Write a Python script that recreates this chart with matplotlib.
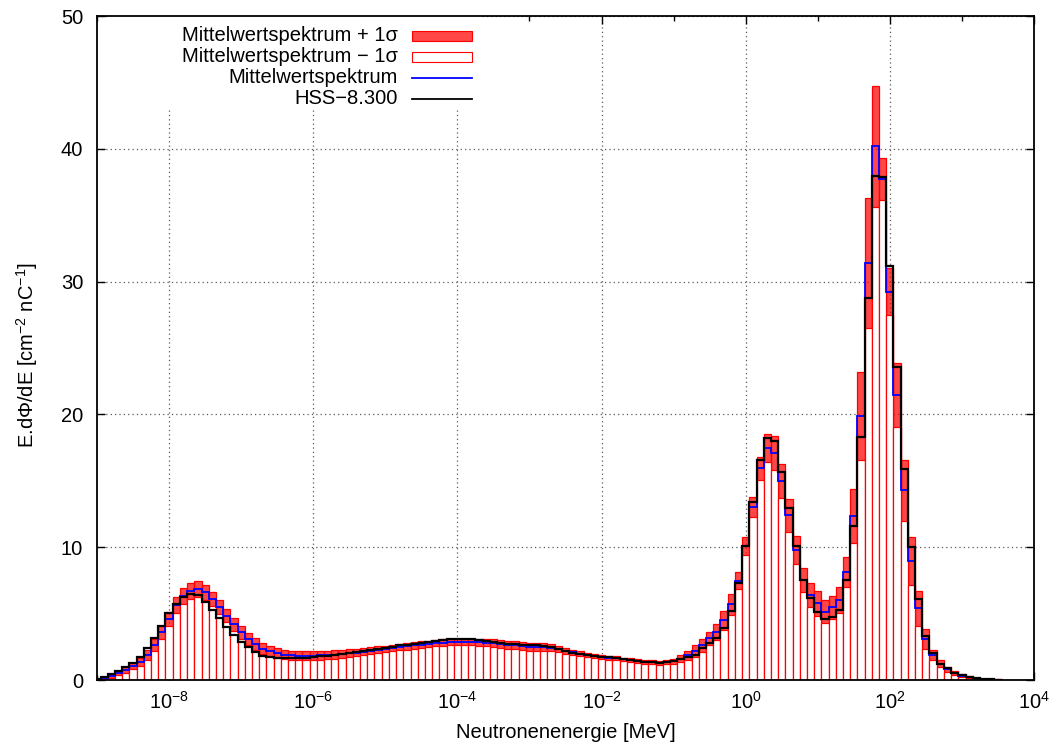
import matplotlib
matplotlib.use("Agg")
from matplotlib import pyplot as plt
from matplotlib.patches import Rectangle
from matplotlib.lines import Line2D
import numpy as np

plt.rcParams['font.family'] = ['Liberation Sans', 'DejaVu Sans']
plt.rcParams['mathtext.fontset'] = 'custom'
plt.rcParams['mathtext.rm'] = 'Liberation Sans'
plt.rcParams['mathtext.it'] = 'Liberation Sans:italic'
plt.rcParams['mathtext.bf'] = 'Liberation Sans:bold'

# bin centres: 10 bins per decade, log10(E/MeV) from -9.0 to 3.5
log_e = np.arange(-90, 36) / 10.0

# mean spectrum (one row per decade)
mittel = [
    0.03, 0.12, 0.3, 0.5, 0.75, 1.05, 1.35, 1.9, 2.6, 3.6,
    4.6, 5.65, 6.3, 6.72, 6.85, 6.6, 6.1, 5.5, 4.85, 4.2,
    3.6, 3.1, 2.72, 2.35, 2.15, 2.02, 1.92, 1.87, 1.84, 1.83,
    1.84, 1.86, 1.89, 1.92, 1.97, 2.02, 2.07, 2.13, 2.2, 2.27,
    2.33, 2.4, 2.47, 2.53, 2.6, 2.67, 2.72, 2.78, 2.82, 2.85,
    2.87, 2.88, 2.86, 2.83, 2.8, 2.77, 2.73, 2.67, 2.61, 2.55,
    2.51, 2.49, 2.47, 2.43, 2.34, 2.21, 2.08, 1.97, 1.9, 1.83,
    1.76, 1.69, 1.62, 1.55, 1.49, 1.43, 1.37, 1.33, 1.3, 1.32,
    1.42, 1.6, 1.85, 2.2, 2.6, 3.15, 3.6, 4.5, 5.7, 7.48,
    10.09, 13.0, 15.94, 17.44, 17.1, 15.0, 12.4, 9.79, 7.53, 6.4,
    5.77, 5.14, 5.47, 6.02, 8.16, 12.35, 19.9, 31.42, 40.2, 37.7,
    29.25, 21.46, 14.3, 8.98, 5.4, 3.1, 1.9, 1.22, 0.8, 0.5,
    0.33, 0.2, 0.13, 0.08, 0.05, 0.03,
]

# 1 sigma of the mean spectrum
sigma = [
    0.02, 0.08, 0.12, 0.16, 0.2, 0.25, 0.3, 0.38, 0.45, 0.5,
    0.55, 0.6, 0.6, 0.62, 0.6, 0.58, 0.56, 0.55, 0.52, 0.5,
    0.48, 0.45, 0.43, 0.4, 0.38, 0.36, 0.35, 0.35, 0.35, 0.35,
    0.35, 0.34, 0.33, 0.32, 0.31, 0.3, 0.29, 0.28, 0.27, 0.26,
    0.25, 0.25, 0.24, 0.24, 0.24, 0.24, 0.24, 0.24, 0.24, 0.24,
    0.24, 0.24, 0.25, 0.26, 0.27, 0.28, 0.29, 0.3, 0.3, 0.31,
    0.31, 0.31, 0.3, 0.28, 0.25, 0.22, 0.2, 0.18, 0.17, 0.16,
    0.15, 0.15, 0.15, 0.14, 0.14, 0.14, 0.14, 0.14, 0.14, 0.15,
    0.18, 0.25, 0.35, 0.45, 0.5, 0.5, 0.6, 0.7, 0.78, 0.66,
    0.7, 0.75, 0.85, 1.05, 1.25, 1.3, 1.25, 1.03, 0.93, 0.9,
    0.95, 0.85, 0.85, 0.95, 1.12, 2.07, 3.3, 4.9, 4.55, 1.58,
    1.8, 2.4, 2.3, 1.8, 1.3, 0.77, 0.38, 0.26, 0.2, 0.15,
    0.12, 0.07, 0.05, 0.03, 0.02, 0.01,
]

# HSS-8.300 spectrum
hss = [
    0.05, 0.25, 0.45, 0.68, 0.95, 1.3, 1.76, 2.43, 3.19, 4.09,
    5.02, 5.7, 6.27, 6.45, 6.4, 5.9, 5.27, 4.64, 4.02, 3.39,
    2.89, 2.51, 2.13, 1.8, 1.7, 1.65, 1.63, 1.63, 1.65, 1.69,
    1.73, 1.78, 1.83, 1.9, 1.97, 2.03, 2.1, 2.2, 2.28, 2.36,
    2.44, 2.52, 2.6, 2.66, 2.72, 2.8, 2.87, 2.95, 3.0, 3.05,
    3.08, 3.09, 3.06, 3.0, 2.93, 2.86, 2.8, 2.74, 2.7, 2.66,
    2.63, 2.61, 2.58, 2.48, 2.32, 2.18, 2.07, 1.98, 1.9, 1.83,
    1.76, 1.7, 1.63, 1.56, 1.5, 1.44, 1.39, 1.35, 1.31, 1.33,
    1.45, 1.55, 1.75, 1.88, 2.38, 2.81, 3.13, 3.89, 5.22, 7.33,
    10.09, 13.43, 16.56, 18.2, 18.02, 15.7, 12.93, 10.09, 7.53, 6.15,
    5.14, 4.56, 4.72, 5.25, 7.53, 11.6, 18.27, 28.78, 37.97, 37.9,
    31.2, 23.55, 15.89, 10.04, 6.07, 3.33, 2.0, 1.22, 0.88, 0.55,
    0.38, 0.22, 0.15, 0.1, 0.06, 0.03,
]

labels = ['Mittelwertspektrum + 1σ', 'Mittelwertspektrum − 1σ',
          'Mittelwertspektrum', 'HSS−8.300']

mittel = np.array(mittel)
sigma = np.array(sigma)
hss = np.array(hss)
oben = mittel + sigma
unten = mittel - sigma

edges = 10 ** np.append(log_e - 0.05, log_e[-1] + 0.05)
widths = np.diff(edges)

fs = 14.5

fig = plt.figure(figsize=(10.52, 7.44), dpi=100)
ax = fig.add_axes([97 / 1052, 1 - 680 / 744, 937 / 1052, 664 / 744])
ax.set_xscale('log')

ax.bar(edges[:-1], oben, width=widths, align='edge',
       facecolor=(1, 0, 0, 0.72), edgecolor='red', linewidth=0.9, zorder=2)
ax.bar(edges[:-1], unten, width=widths, align='edge',
       facecolor='white', edgecolor='red', linewidth=0.9, zorder=3)
ax.stairs(mittel, edges, color='#0000ff', linewidth=1.3, zorder=4)
ax.stairs(hss, edges, color='black', linewidth=1.6, zorder=5)

ax.set_xlim(1e-9, 1e4)
ax.set_ylim(0, 50)

even = 10.0 ** np.arange(-8, 5, 2)
odd = 10.0 ** np.arange(-9, 4, 2)
ax.set_xticks(even)
ax.set_xticklabels([r'10$^{%d}$' % e for e in range(-8, 5, 2)])
ax.set_xticks(odd, minor=True)
ax.set_xticklabels([], minor=True)
ax.set_yticks(np.arange(0, 51, 10))

ax.tick_params(which='both', direction='in', top=True, right=True,
               labelsize=fs, width=1.0)
ax.tick_params(which='major', length=6)
ax.tick_params(which='minor', length=3.5)
ax.tick_params(axis='y', pad=10)
ax.tick_params(axis='x', pad=8)
for s in ax.spines.values():
    s.set_linewidth(1.3)
    s.set_zorder(6)

ax.set_axisbelow(True)
ax.grid(True, which='major', color='0.35', linestyle=(0, (1, 2.5)),
        linewidth=0.9)

# key area keeps the grid out, gnuplot style
ax.add_patch(Rectangle((0.014, 0.86), 0.397, 0.14, transform=ax.transAxes,
                       facecolor='white', edgecolor='none', zorder=1))

tx = 0.3212
hx = 0.3359
hw = 0.064
hh = 0.0151
rows = [0.9703, 0.9383, 0.9071, 0.875]
for lab, ry in zip(labels, rows):
    ax.text(tx, ry, lab, transform=ax.transAxes, ha='right', va='center',
            fontsize=fs, zorder=7)
ax.add_patch(Rectangle((hx, rows[0] - hh / 2), hw, hh, transform=ax.transAxes,
                       facecolor=(1, 0, 0, 0.72), edgecolor='red',
                       linewidth=0.8, zorder=7))
ax.add_patch(Rectangle((hx, rows[1] - hh / 2), hw, hh, transform=ax.transAxes,
                       facecolor='white', edgecolor='red',
                       linewidth=0.8, zorder=7))
ax.add_line(Line2D([hx, hx + hw], [rows[2], rows[2]], transform=ax.transAxes,
                   color='#0000ff', linewidth=1.3, zorder=7))
ax.add_line(Line2D([hx, hx + hw], [rows[3], rows[3]], transform=ax.transAxes,
                   color='black', linewidth=1.3, zorder=7))

fig.text(566 / 1052, 1 - 733 / 744, 'Neutronenenergie [MeV]',
         ha='center', va='center', fontsize=fs)
fig.text(27 / 1052, 1 - 355 / 744, r'E.d$\Phi$/dE [cm$^{-2}$ nC$^{-1}$]',
         ha='center', va='center', rotation=90, fontsize=fs)

fig.savefig('out.png', dpi=100)
